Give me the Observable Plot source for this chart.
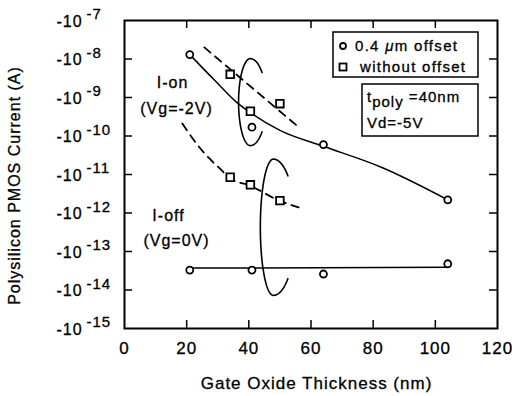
<!DOCTYPE html>
<html>
<head>
<meta charset="utf-8">
<script src="https://cdn.jsdelivr.net/npm/d3@7"></script>
<script src="https://cdn.jsdelivr.net/npm/@observablehq/plot@0.6"></script>
<style>
  html, body { margin: 0; padding: 0; background: #fff; }
  svg text { stroke: black; stroke-width: 0.3px; }
</style>
</head>
<body>
<div id="chart"></div>
<script>
// Gate oxide thickness (nm) and drain current (A) of polysilicon PMOS TFTs
const thicknessOffset = [21, 41, 64, 104];
const ionOffset  = [-1.3e-8, -1.7e-10, -6.0e-11, -2.2e-12];   // Vg = -2 V
const ioffOffset = [-3.3e-14, -3.3e-14, -2.6e-14, -4.8e-14];  // Vg = 0 V

const thicknessNoOffset = [34, 40.5, 50];
const ionNoOffset  = [-4.0e-9, -4.4e-10, -6.9e-10];
const ioffNoOffset = [-8.5e-12, -5.4e-12, -2.1e-12];

// Trend curves drawn through each group
const ionOffsetFitX = [21, 29, 36, 41, 50, 64, 83, 104];
const ionOffsetFitI = [-1.3e-8, -2.8e-9, -7.6e-10, -3.8e-10, -1.4e-10, -5.4e-11, -1.5e-11, -2.2e-12];
const ionNoOffsetFitX = [25.7, 56.6];
const ionNoOffsetFitI = [-2.0e-8, -1.55e-10];
const ioffNoOffsetFitX = [18.6, 25.4, 30.2, 34.1, 40.5, 49.2, 56.0];
const ioffNoOffsetFitI = [-2.1e-10, -3.8e-11, -1.55e-11, -7.9e-12, -5.1e-12, -2.2e-12, -1.4e-12];
const ioffOffsetFitX = [21, 104];
const ioffOffsetFitI = [-3.7e-14, -3.9e-14];

// Axis ticks and labels
const xTicks = [0, 20, 40, 60, 80, 100, 120];
const yTickExponents = [-7, -8, -9, -10, -11, -12, -13, -14, -15];
const xLabel = "Gate Oxide Thickness (nm)";
const yLabel = "Polysilicon PMOS Current (A)";
const legendLabels = ["0.4 \u03BCm offset", "without offset"];

const FONT = '"Liberation Sans", Arial, Helvetica, sans-serif';
const zip = (xs, is) => xs.map((x, k) => ({x, i: is[k]}));
const mag = d => Math.abs(d.i);

// Hand-drawn loops grouping the points near 40 nm (centre in nm / log10|I|)
const loops = [
  {cx: 40.5, ce: -9.12, rxLeft: 3.8, rxRight: 5.1, ry: 1.13, gap: 43},
  {cx: 47.9, ce: -12.37, rxLeft: 4.2, rxRight: 7.1, ry: 1.77, gap: 49}
];
const loopPath = ({cx, ce, rxLeft, rxRight, ry, gap}) =>
  d3.range(gap, 360 - gap + 0.1, 2).map(t => {
    const a = t * Math.PI / 180, c = Math.cos(a);
    return {x: cx + (c < 0 ? rxLeft : rxRight) * c, i: -(10 ** (ce + ry * Math.sin(a)))};
  });

// Legend and condition boxes, laid out from the frame's top-right corner
function annotations(index, scales, values, dims) {
  const right = dims.width - dims.marginRight;
  const top = dims.marginTop;
  const g = d3.create("svg:g").attr("font-family", FONT).attr("fill", "black")
    .attr("text-anchor", "start");
  const box = (x0, y0, w, h) => g.append("rect")
    .attr("x", x0).attr("y", y0).attr("width", w).attr("height", h)
    .attr("fill", "white").attr("stroke", "black").attr("stroke-width", 1.5);

  // legend
  box(right - 164, top + 12, 145, 45);
  const lx = right - 154;
  g.append("circle").attr("cx", lx).attr("cy", top + 26).attr("r", 3)
    .attr("fill", "white").attr("stroke", "black").attr("stroke-width", 1.8);
  g.append("rect").attr("x", lx - 3.5).attr("y", top + 43.5).attr("width", 7).attr("height", 7)
    .attr("fill", "white").attr("stroke", "black").attr("stroke-width", 1.8);
  const t1 = g.append("text").attr("x", lx + 12).attr("y", top + 31)
    .attr("font-size", 15).attr("letter-spacing", 1.3);
  const [pre, post] = legendLabels[0].split("\u03BC");
  t1.append("tspan").text(pre);
  t1.append("tspan").attr("font-style", "italic").text("\u03BC");
  t1.append("tspan").text(post);
  g.append("text").attr("x", lx + 17).attr("y", top + 52)
    .attr("font-size", 15).attr("letter-spacing", 1.3).text(legendLabels[1]);

  // measurement conditions
  box(right - 135, top + 64, 116, 52);
  const c1 = g.append("text").attr("x", right - 130).attr("y", top + 82)
    .attr("font-size", 15).attr("letter-spacing", 1);
  c1.append("tspan").text("t");
  c1.append("tspan").attr("dy", 5).text("poly");
  c1.append("tspan").attr("dy", -5).text(" =40nm");
  g.append("text").attr("x", right - 130).attr("y", top + 108)
    .attr("font-size", 15).attr("letter-spacing", 1).text("Vd=-5V");
  return g.node();
}

const lineStyle = {x: "x", y: mag, stroke: "black", strokeWidth: 1.5, curve: "monotone-x"};
const dashStyle = {...lineStyle, strokeDasharray: "8,6", strokeWidth: 1.8};
const dotStyle = {x: "x", y: mag, stroke: "black", strokeWidth: 1.8, fill: "white"};
const labelStyle = {text: d => d, fontSize: 16, textAnchor: "middle", lineAnchor: "middle"};
const innerX = xTicks.slice(1, -1);
const innerY = yTickExponents.slice(1, -1).map(e => 10 ** e);

const chart = Plot.plot({
  width: 512,
  height: 396,
  marginTop: 20,
  marginBottom: 68,
  marginLeft: 124,
  marginRight: 15,
  style: {fontFamily: FONT, fontSize: "16px", background: "white", color: "black", letterSpacing: "1px"},
  x: {domain: [0, 120], axis: null},
  y: {type: "log", domain: [1e-15, 1e-7], axis: null},
  marks: [
    // inward ticks on all four sides
    Plot.ruleX(innerX, {x: d => d, insetTop: 300, strokeWidth: 1.5}),
    Plot.ruleX(innerX, {x: d => d, insetBottom: 300, strokeWidth: 1.5}),
    Plot.ruleY(innerY, {y: d => d, insetRight: 365, strokeWidth: 1.5}),
    Plot.ruleY(innerY, {y: d => d, insetLeft: 365, strokeWidth: 1.5}),
    Plot.frame({strokeWidth: 2}),

    // tick labels
    Plot.text(xTicks, {x: d => d, frameAnchor: "bottom", dy: 20.5, text: d => String(d),
      fontSize: 17, textAnchor: "middle", lineAnchor: "middle"}),
    Plot.text(yTickExponents, {y: d => 10 ** d, frameAnchor: "left", textAnchor: "start",
      lineAnchor: "middle", dx: -68, dy: 1, text: () => "-10", fontSize: 16}),
    Plot.text(yTickExponents, {y: d => 10 ** d, frameAnchor: "left", textAnchor: "start",
      lineAnchor: "middle", dx: -38, dy: -6, text: d => String(d), fontSize: 15}),

    // axis titles
    Plot.text([xLabel], {...labelStyle, frameAnchor: "bottom", dx: 5.5, dy: 55, fontSize: 17,
      ariaLabel: "x-title"}),
    Plot.text([yLabel], {...labelStyle, frameAnchor: "left", rotate: -90, dx: -110, dy: 11,
      ariaLabel: "y-title"}),

    // trend curves
    Plot.line(zip(ionOffsetFitX, ionOffsetFitI), lineStyle),
    Plot.line(zip(ioffOffsetFitX, ioffOffsetFitI), lineStyle),
    Plot.line(zip(ionNoOffsetFitX, ionNoOffsetFitI), dashStyle),
    Plot.line(zip(ioffNoOffsetFitX, ioffNoOffsetFitI), dashStyle),

    // grouping loops
    ...loops.map(l => Plot.line(loopPath(l), {x: "x", y: mag, stroke: "black", strokeWidth: 1.6})),

    // measured points
    Plot.dot(zip(thicknessOffset, ionOffset), {...dotStyle, r: 3.5}),
    Plot.dot(zip(thicknessOffset, ioffOffset), {...dotStyle, r: 3.5}),
    Plot.dot(zip(thicknessNoOffset, ionNoOffset), {...dotStyle, symbol: "square", r: 4.3}),
    Plot.dot(zip(thicknessNoOffset, ioffNoOffset), {...dotStyle, symbol: "square", r: 4.3}),

    // curve group labels
    Plot.text(["I-on"], {...labelStyle, frameAnchor: "top-left", dx: 48, dy: 62}),
    Plot.text(["(Vg=-2V)"], {...labelStyle, frameAnchor: "top-left", dx: 52, dy: 88}),
    Plot.text(["I-off"], {...labelStyle, frameAnchor: "top-left", dx: 44, dy: 195}),
    Plot.text(["(Vg=0V)"], {...labelStyle, frameAnchor: "top-left", dx: 52, dy: 220}),

    annotations
  ]
});

d3.select(chart).selectAll('g[aria-label="y-title"] text').attr("letter-spacing", 1.8);
d3.select(chart).selectAll('g[aria-label="x-title"] text').attr("letter-spacing", 1.4);
document.getElementById("chart").appendChild(chart);
</script>
</body>
</html>
